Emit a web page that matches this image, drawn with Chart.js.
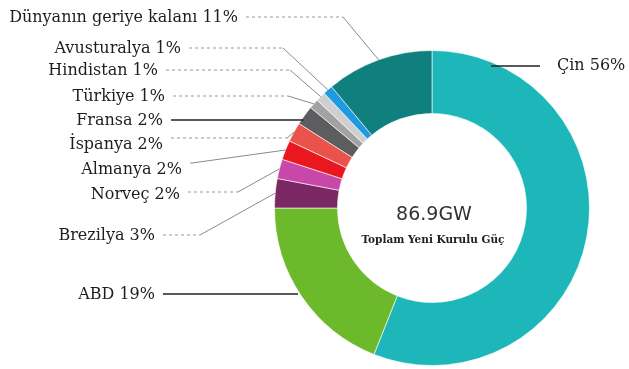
<!DOCTYPE html>
<html>
<head>
<meta charset="utf-8">
<script src="https://cdn.jsdelivr.net/npm/chart.js@4/dist/chart.umd.min.js"></script>
<style>
html,body{margin:0;padding:0;background:#fff;}
#wrap{width:629px;height:369px;}
</style>
</head>
<body>
<div id="wrap"><canvas id="c" width="629" height="369"></canvas></div>
<script>
// ---- data ----
const categories = ["Çin", "ABD", "Brezilya", "Norveç", "Almanya", "İspanya", "Fransa", "Türkiye", "Hindistan", "Avusturalya", "Dünyanın geriye kalanı"];
const shares = [56, 19, 3, 2, 2, 2, 2, 1, 1, 1, 11];
const totalLabel = "86.9GW";
const totalCaption = "Toplam Yeni Kurulu Güç";

// ---- styling ----
const colors = ["#1db7b9", "#6cb92b", "#7a2763", "#c947a8", "#ea1620", "#e9534b", "#5d5d5f", "#a2a2a2", "#cfcfcf", "#1d9ae0", "#10807f"];

// label layout: side, text anchor x, text y, leader y, elbow x, line kind, overlap into ring
const labelLayout = [
  {side:"right", tx:557, ty:66, ly:66, kind:"solidH", inset:9},
  {side:"left", tx:155, ty:295, ly:294, kind:"solidH", inset:-2},
  {side:"left", tx:155, ty:236, ly:235, ex:200, kind:"dash"},
  {side:"left", tx:180, ty:195, ly:192, ex:238, kind:"dash"},
  {side:"left", tx:182, ty:170, ly:163, ex:192, kind:"dash"},
  {side:"left", tx:163, ty:145, ly:138, ex:287, kind:"dash"},
  {side:"left", tx:163, ty:121, ly:120, kind:"solidH", inset:2},
  {side:"left", tx:165, ty:97, ly:96, ex:288, kind:"dash"},
  {side:"left", tx:158, ty:71, ly:70, ex:290, kind:"dash"},
  {side:"left", tx:181, ty:49, ly:48, ex:283, kind:"dash"},
  {side:"left", tx:238, ty:18, ly:17, ex:343, kind:"dash"}
];

const labelPlugin = {
  id: "labelPlugin",
  afterDraw(chart) {
    const ctx = chart.ctx;
    const meta = chart.getDatasetMeta(0);
    ctx.save();
    meta.data.forEach((arc, i) => {
      const p = arc.getProps(["x","y","startAngle","endAngle","outerRadius"], true);
      const L = labelLayout[i];
      const text = categories[i] + " " + shares[i] + "%";
      ctx.font = "16px 'DejaVu Serif'";
      ctx.fillStyle = "#1e1e1e";
      ctx.textBaseline = "middle";
      let lineStart;
      if (L.side === "left") {
        ctx.textAlign = "right";
        ctx.fillText(text, L.tx, L.ty);
        lineStart = L.tx + 8;
      } else {
        ctx.textAlign = "left";
        ctx.fillText(text, L.tx, L.ty);
        lineStart = L.tx - 17;
      }
      const R = p.outerRadius;
      if (L.kind === "solidH") {
        const dy = L.ly - p.y;
        const dx = Math.sqrt(Math.max(R*R - dy*dy, 0));
        const xEdge = L.side === "left" ? p.x - dx + L.inset : p.x + dx - L.inset;
        ctx.strokeStyle = "#222";
        ctx.lineWidth = 1.5;
        ctx.setLineDash([]);
        ctx.beginPath();
        ctx.moveTo(lineStart, L.ly);
        ctx.lineTo(xEdge, L.ly);
        ctx.stroke();
      } else {
        const mid = (p.startAngle + p.endAngle) / 2;
        const mx = p.x + Math.cos(mid) * R;
        const my = p.y + Math.sin(mid) * R;
        ctx.strokeStyle = "#9a9a9a";
        ctx.lineWidth = 1;
        ctx.setLineDash([3, 3]);
        ctx.beginPath();
        ctx.moveTo(lineStart, L.ly);
        ctx.lineTo(L.ex, L.ly);
        ctx.stroke();
        ctx.setLineDash([]);
        ctx.strokeStyle = "#8a8a8a";
        ctx.beginPath();
        ctx.moveTo(L.ex, L.ly);
        ctx.lineTo(mx, my);
        ctx.stroke();
      }
    });
    // centre text
    const a0 = meta.data[0];
    const cx = a0.x, cy = a0.y;
    ctx.textAlign = "center";
    ctx.textBaseline = "middle";
    ctx.fillStyle = "#333";
    ctx.font = "19px 'DejaVu Sans'";
    ctx.fillText(totalLabel, cx + 2, cy + 7);
    ctx.fillStyle = "#222";
    ctx.font = "bold 10.5px 'DejaVu Serif'";
    ctx.fillText(totalCaption, cx + 1, cy + 32);
    ctx.restore();
  }
};

new Chart(document.getElementById("c"), {
  type: "doughnut",
  data: {
    labels: categories,
    datasets: [{
      data: shares,
      backgroundColor: colors,
      borderColor: "rgba(255,255,255,0.6)",
      borderWidth: 1
    }]
  },
  options: {
    responsive: false,
    animation: false,
    cutout: "60%",
    layout: { padding: { left: 274, right: 39, top: 50, bottom: 3 } },
    plugins: { legend: { display: false }, tooltip: { enabled: false } }
  },
  plugins: [labelPlugin]
});
</script>
</body>
</html>
